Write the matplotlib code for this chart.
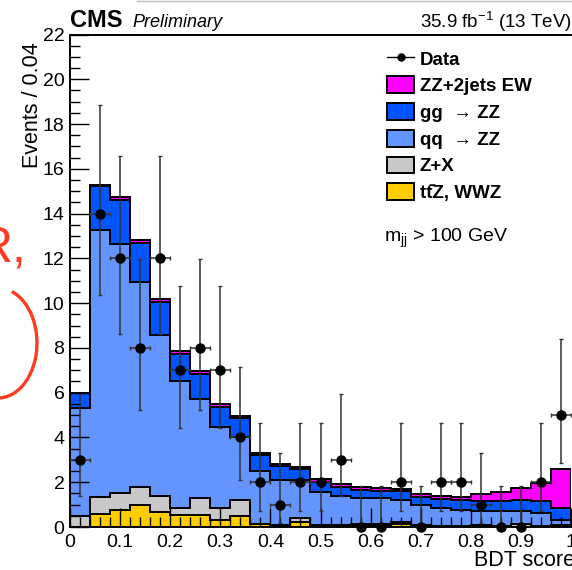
import matplotlib
matplotlib.use("Agg")
import matplotlib.pyplot as plt
import numpy as np
from matplotlib.lines import Line2D
from matplotlib.patches import Patch, Arc

plt.rcParams['font.family'] = ['Liberation Sans', 'DejaVu Sans']
plt.rcParams['mathtext.fontset'] = 'custom'
plt.rcParams['mathtext.rm'] = 'Liberation Sans'
plt.rcParams['mathtext.it'] = 'Liberation Sans:italic'
plt.rcParams['mathtext.bf'] = 'Liberation Sans:bold'

# bin edges of the BDT score, width 0.04
edges = np.linspace(0, 1, 26)

# stack components (bottom to top)
ttz = [0.00, 0.58, 0.76, 0.98, 0.68, 0.54, 0.54, 0.30, 0.48, 0.12, 0.07, 0.22, 0.05,
       0.05, 0.10, 0.10, 0.12, 0.03, 0.03, 0.03, 0.08, 0.03, 0.02, 0.02, 0.05]
zx = [0.50, 0.77, 0.77, 0.81, 0.72, 0.32, 0.76, 0.55, 0.72, 0.03, 0.03, 0.20, 0.03,
      0.05, 0.02, 0.05, 0.12, 0.05, 0.02, 0.02, 0.02, 0.02, 0.10, 0.03, 0.03]
qqzz = [4.80, 11.93, 11.11, 9.15, 7.16, 5.64, 4.41, 3.61, 2.84, 2.37, 2.00, 1.68, 1.47,
        1.29, 1.16, 1.13, 0.97, 0.90, 0.80, 0.70, 0.60, 0.65, 0.58, 0.58, 0.23]
ggzz = [0.68, 1.94, 1.98, 1.76, 1.49, 1.22, 1.14, 0.92, 0.81, 0.68, 0.62, 0.48, 0.48,
        0.41, 0.37, 0.34, 0.39, 0.38, 0.39, 0.46, 0.48, 0.48, 0.50, 0.51, 0.52]
zzew = [0.02, 0.05, 0.11, 0.12, 0.13, 0.13, 0.10, 0.12, 0.11, 0.12, 0.10, 0.12, 0.12,
        0.12, 0.13, 0.11, 0.09, 0.11, 0.15, 0.12, 0.29, 0.40, 0.53, 0.81, 1.75]

# observed data and its (Poisson) error bar ends
data = [3, 14, 12, 8, 12, 7, 8, 7, 4, 2, 1, 2, 2, 3, 0, 0, 2, 0, 2, 2, 1, 0, 0, 2, 5]
data_lo = [1.37, 10.35, 8.62, 5.23, 8.62, 4.42, 5.23, 4.42, 2.09, 0.71, 0.17, 0.71, 0.71,
           1.37, 0.0, 0.0, 0.71, 0.0, 0.71, 0.71, 0.17, 0.0, 0.0, 0.71, 2.84]
data_hi = [5.92, 18.83, 16.57, 11.95, 16.57, 10.77, 11.95, 10.77, 7.16, 4.64, 3.30, 4.64,
           4.64, 5.92, 1.84, 1.84, 4.64, 1.84, 4.64, 4.64, 3.30, 1.84, 1.84, 4.64, 8.38]

labels = ["ZZ+2jets EW", "gg  \u2192 ZZ", "qq  \u2192 ZZ", "Z+X", "tt\u0304Z, WWZ"]
colors = ["#ff00ff", "#0055ff", "#6495ff", "#c8c8c8", "#ffcc00"]

fig = plt.figure(figsize=(5.72, 5.70), dpi=100)
ax = fig.add_axes([70 / 572, 1 - 527 / 570, 501 / 572, 492.5 / 570])

components = [ttz, zx, qqzz, ggzz, zzew]
comp_colors = colors[::-1]
base = np.zeros(len(data))
for vals, c in zip(components, comp_colors):
    top = base + np.array(vals)
    ax.stairs(top, edges, baseline=base, fill=True, facecolor=c,
              edgecolor='black', linewidth=1.4, zorder=1)
    base = top

centers = 0.5 * (edges[:-1] + edges[1:])
d = np.array(data, dtype=float)
yerr = [d - np.array(data_lo), np.array(data_hi) - d]
xerr = np.where(d > 0, 0.02, 0.0)
ax.errorbar(centers, d, yerr=yerr, xerr=xerr, fmt='o', color='black',
            ecolor='#333333', elinewidth=1.1, markersize=6.5, capsize=1.5,
            capthick=1.0, zorder=5, clip_on=False)

ax.set_xlim(0, 1)
ax.set_ylim(0, 22)
ax.set_xticks(np.arange(0, 1.01, 0.1))
ax.set_xticklabels(["0", "0.1", "0.2", "0.3", "0.4", "0.5", "0.6", "0.7", "0.8", "0.9", "1"])
ax.set_xticks(np.arange(0, 1.001, 0.02), minor=True)
ax.set_yticks(np.arange(0, 23, 2))
ax.set_yticks(np.arange(0, 22.1, 0.5), minor=True)
ax.tick_params(which='both', direction='in', labelsize=14, width=1.0, top=False, right=False)
ax.tick_params(which='major', length=14)
ax.tick_params(which='minor', length=7)
ax.tick_params(axis='y', pad=4)
ax.tick_params(axis='x', pad=5)
for s in ax.spines.values():
    s.set_linewidth(1.4)
ax.spines['right'].set_visible(False)

handles = [Line2D([], [], color='black', marker='o', markersize=5, lw=1)]
handles += [Patch(facecolor=c, edgecolor='black', linewidth=1.4) for c in colors]
ax.legend(handles, ["Data"] + labels, loc='upper left', bbox_to_anchor=(0.633, 0.969),
          frameon=False, prop={'weight': 'bold', 'size': 13.5}, handlelength=1.45,
          handleheight=1.0, labelspacing=0.42, handletextpad=0.3,
          borderpad=0, borderaxespad=0)

ax.text(0.626, 0.585, "m$_{\\rm jj}$ > 100 GeV", transform=ax.transAxes,
        fontsize=14, va='center', ha='left')

fig.text(70 / 572, 1 - 27 / 570, "CMS", fontsize=17, weight='bold', va='baseline')
fig.text(132 / 572, 1 - 27 / 570, "Preliminary", fontsize=13, style='italic', va='baseline')
fig.text(572 / 572, 1 - 28 / 570, "35.9 fb$^{-1}$ (13 TeV)", fontsize=13.5,
         ha='right', va='baseline')
fig.text(33 / 572, 1 - 42 / 570, "Events / 0.04", fontsize=15.5, rotation=90,
         ha='center', va='top')
fig.text(575 / 572, 1 - 566 / 570, "BDT score", fontsize=15.5, ha='right', va='baseline')

# red hand annotation from the slide
fig.text(27 / 572, 1 - 262 / 570, "R,", fontsize=36, color='#ff3b1f', ha='right',
         va='baseline')
fig.add_artist(Arc((-2 / 572, 1 - 343 / 570), 78 / 572, 110 / 570, theta1=-95,
                   theta2=75, color='#ff3b1f', lw=2.4, transform=fig.transFigure))
fig.add_artist(Line2D([137 / 572, 1], [1 - 0.8 / 570, 1 - 0.8 / 570], color='#c0c0c0',
                      lw=1.0, transform=fig.transFigure))

fig.savefig("out.png", dpi=100)
